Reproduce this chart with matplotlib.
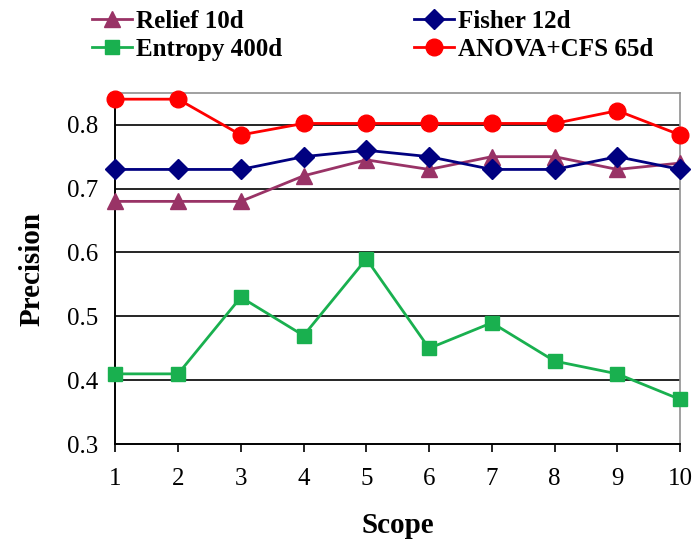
import matplotlib.pyplot as plt

# Data
scope = [1, 2, 3, 4, 5, 6, 7, 8, 9, 10]
relief = [0.68, 0.68, 0.68, 0.72, 0.745, 0.73, 0.75, 0.75, 0.73, 0.74]
fisher = [0.73, 0.73, 0.73, 0.75, 0.76, 0.75, 0.73, 0.73, 0.75, 0.73]
entropy = [0.41, 0.41, 0.53, 0.47, 0.59, 0.45, 0.49, 0.43, 0.41, 0.37]
anova = [0.84, 0.84, 0.784, 0.802, 0.802, 0.802, 0.802, 0.802, 0.822, 0.784]
y_ticks = [0.3, 0.4, 0.5, 0.6, 0.7, 0.8]

plt.rcParams['font.family'] = ['Liberation Serif', 'DejaVu Serif']

fig = plt.figure(figsize=(6.99, 5.49), dpi=100)
ax = fig.add_axes([0.165, 0.191, 0.808, 0.64])

# grid lines first so markers sit on top
for t in y_ticks[1:]:
    ax.axhline(t, color='black', lw=1.2, zorder=1)

l1, = ax.plot(scope, relief, color='#993366', marker='^', ms=12, lw=2, zorder=3, clip_on=False)
l2, = ax.plot(scope, fisher, color='#000080', marker='D', ms=10, lw=2, zorder=4, clip_on=False)
l3, = ax.plot(scope, entropy, color='#19b04f', marker='s', ms=10.5, lw=2, zorder=3, clip_on=False)
l4, = ax.plot(scope, anova, color='#ff0000', marker='o', ms=12, lw=2, zorder=5, clip_on=False)

ax.set_xlim(1, 10)
ax.set_ylim(0.3, 0.85)
ax.set_xticks(scope)
ax.set_xticklabels([str(s) for s in scope])
ax.set_yticks(y_ticks)
ax.set_yticklabels([f'{t:.1f}' for t in y_ticks])
ax.tick_params(axis='x', direction='out', length=6, width=1.2, pad=11, labelsize=18)
ax.tick_params(axis='y', length=0, pad=12, labelsize=18)

for side in ['top', 'right']:
    ax.spines[side].set_color('#909090')
    ax.spines[side].set_linewidth(1.2)
for side in ['left', 'bottom']:
    ax.spines[side].set_color('black')
    ax.spines[side].set_linewidth(1.4)

ax.set_xlabel('Scope', fontsize=21, fontweight='bold', labelpad=16)
ax.set_ylabel('Precision', fontsize=21, fontweight='bold', labelpad=16)

fig.legend(handles=[l1, l3, l2, l4],
           labels=['Relief 10d', 'Entropy 400d', 'Fisher 12d', 'ANOVA+CFS 65d'],
           ncol=2, loc='upper left', bbox_to_anchor=(0.11, 1.01),
           frameon=False, prop={'weight': 'bold', 'size': 18},
           handlelength=1.6, handletextpad=0.15, columnspacing=5.3,
           labelspacing=0.2, borderaxespad=0.2)

plt.savefig('out.png', dpi=100)
